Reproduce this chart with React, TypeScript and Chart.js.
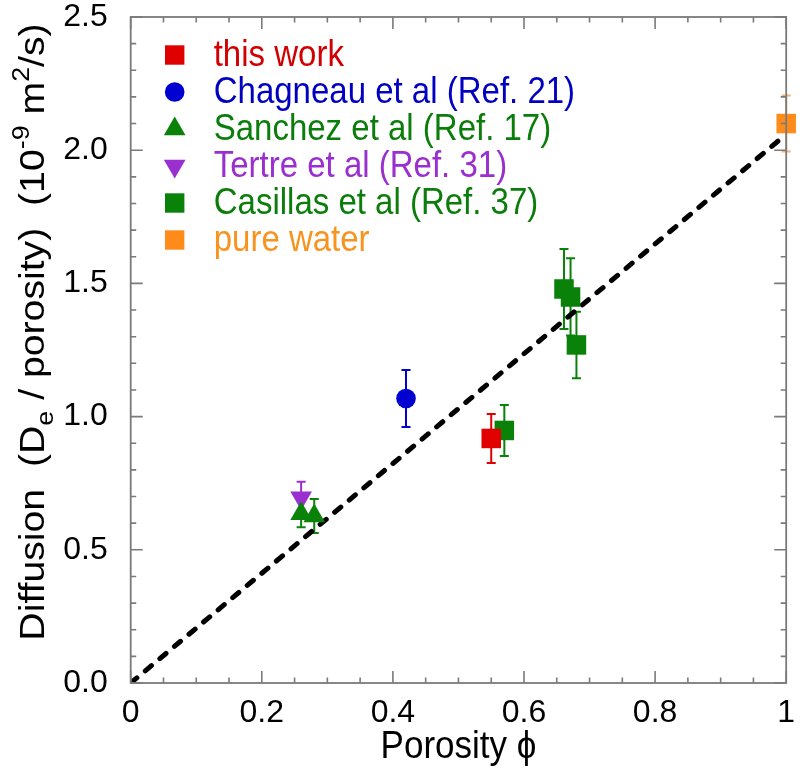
import { useEffect, useRef } from 'react';
import { Chart, registerables } from 'chart.js';

Chart.register(...registerables);

// ---------- data ----------
const thisWorkX = [0.55];
const thisWorkY = [0.918];
const thisWorkErr = [0.092];

const chagneauX = [0.42];
const chagneauY = [1.068];
const chagneauErr = [0.107];

const sanchezX = [0.26, 0.28];
const sanchezY = [0.635, 0.627];
const sanchezErr = [0.05, 0.064];

const tertreX = [0.26];
const tertreY = [0.695];
const tertreErr = [0.06];

const casillasX = [0.57, 0.661, 0.671, 0.68];
const casillasY = [0.948, 1.479, 1.449, 1.269];
const casillasErr = [0.096, 0.15, 0.145, 0.125];

const waterX = [1.0];
const waterY = [2.1];
const waterErr = [0.105];

const fitX = [0, 1];
const fitY = [0, 2.06];

const xTickValues = [0, 0.2, 0.4, 0.6, 0.8, 1];
const yTickValues = [0, 0.5, 1.0, 1.5, 2.0, 2.5];

const seriesLabels = [
  'this work',
  'Chagneau et al (Ref. 21)',
  'Sanchez et al (Ref. 17)',
  'Tertre et al (Ref. 31)',
  'Casillas et al (Ref. 37)',
  'pure water',
];

const FONT = "'Liberation Sans', Arial, Helvetica, sans-serif";

type Series = {
  label: string;
  xs: number[];
  ys: number[];
  errs: number[];
  color: string;
  textColor: string;
  errColor: string;
  style: string;
  rotation: number;
  radius: number;
};

const series: Series[] = [
  { label: seriesLabels[0], xs: thisWorkX, ys: thisWorkY, errs: thisWorkErr, color: '#E00000', textColor: '#D20000', errColor: '#E00000', style: 'rect', rotation: 0, radius: 13.8 },
  { label: seriesLabels[1], xs: chagneauX, ys: chagneauY, errs: chagneauErr, color: '#0000D0', textColor: '#0000C0', errColor: '#0000D0', style: 'circle', rotation: 0, radius: 9.8 },
  { label: seriesLabels[2], xs: sanchezX, ys: sanchezY, errs: sanchezErr, color: '#0A820A', textColor: '#0A7D0A', errColor: '#0A820A', style: 'triangle', rotation: 0, radius: 12.5 },
  { label: seriesLabels[3], xs: tertreX, ys: tertreY, errs: tertreErr, color: '#9A30D0', textColor: '#9A2ECF', errColor: '#9A30D0', style: 'triangle', rotation: 180, radius: 12.5 },
  { label: seriesLabels[4], xs: casillasX, ys: casillasY, errs: casillasErr, color: '#0A820A', textColor: '#0A7D0A', errColor: '#0A820A', style: 'rect', rotation: 0, radius: 13.8 },
  { label: seriesLabels[5], xs: waterX, ys: waterY, errs: waterErr, color: '#FF8C1A', textColor: '#F7931E', errColor: '#F7B274', style: 'rect', rotation: 0, radius: 13.8 },
];

function drawMarker(ctx: CanvasRenderingContext2D, style: string, rotation: number, x: number, y: number, color: string) {
  ctx.save();
  ctx.fillStyle = color;
  ctx.beginPath();
  if (style === 'rect') {
    const s = 9.7;
    ctx.rect(x - s, y - s, 2 * s, 2 * s);
  } else if (style === 'circle') {
    ctx.arc(x, y, 9.8, 0, Math.PI * 2);
  } else {
    const r = 12.5;
    let rad = (rotation * Math.PI) / 180;
    for (let i = 0; i < 3; i++) {
      const px = x + Math.sin(rad) * r;
      const py = y - Math.cos(rad) * r;
      if (i === 0) ctx.moveTo(px, py);
      else ctx.lineTo(px, py);
      rad += (2 * Math.PI) / 3;
    }
    ctx.closePath();
  }
  ctx.fill();
  ctx.restore();
}

const errorBarPlugin = {
  id: 'errorBars',
  beforeDatasetsDraw(chart: any) {
    const ctx = chart.ctx as CanvasRenderingContext2D;
    const xs = chart.scales.x;
    const ys = chart.scales.y;
    ctx.save();
    series.forEach((s) => {
      ctx.strokeStyle = s.errColor;
      ctx.lineWidth = 2;
      s.xs.forEach((xv, i) => {
        const px = xs.getPixelForValue(xv);
        const top = ys.getPixelForValue(s.ys[i] + s.errs[i]);
        const bot = ys.getPixelForValue(s.ys[i] - s.errs[i]);
        ctx.beginPath();
        ctx.moveTo(px, top);
        ctx.lineTo(px, bot);
        ctx.moveTo(px - 4.5, top);
        ctx.lineTo(px + 4.5, top);
        ctx.moveTo(px - 4.5, bot);
        ctx.lineTo(px + 4.5, bot);
        ctx.stroke();
      });
    });
    ctx.restore();
  },
};

function stretchedText(ctx: CanvasRenderingContext2D, text: string, x: number, y: number, sy: number) {
  ctx.save();
  ctx.translate(x, y);
  ctx.scale(1, sy);
  ctx.fillText(text, 0, 0);
  ctx.restore();
}

const framePlugin = {
  id: 'frame',
  afterDatasetsDraw(chart: any) {
    const ctx = chart.ctx as CanvasRenderingContext2D;
    const { left, right, top, bottom } = chart.chartArea;
    const xs = chart.scales.x;
    const ys = chart.scales.y;
    ctx.save();
    ctx.strokeStyle = '#7a7a7a';
    ctx.lineWidth = 1.6;
    ctx.beginPath();
    for (let k = 0; k <= 20; k++) {
      const v = k * 0.05;
      const px = xs.getPixelForValue(v);
      const major = xTickValues.some((t) => Math.abs(t - v) < 1e-6);
      const len = major ? 12 : 5.5;
      ctx.moveTo(px, bottom);
      ctx.lineTo(px, bottom - len);
      ctx.moveTo(px, top);
      ctx.lineTo(px, top + len);
    }
    for (let k = 0; k <= 25; k++) {
      const v = k * 0.1;
      const py = ys.getPixelForValue(v);
      const major = yTickValues.some((t) => Math.abs(t - v) < 1e-6);
      const len = major ? 12 : 5.5;
      ctx.moveTo(left, py);
      ctx.lineTo(left + len, py);
      ctx.moveTo(right, py);
      ctx.lineTo(right - len, py);
    }
    ctx.stroke();
    ctx.lineWidth = 1.8;
    ctx.strokeRect(left, top, right - left, bottom - top);
    ctx.restore();

    // legend
    ctx.save();
    ctx.font = `33px ${FONT}`;
    ctx.textBaseline = 'middle';
    ctx.textAlign = 'left';
    series.forEach((s, i) => {
      const cy = top + 38 + i * 37;
      drawMarker(ctx, s.style, s.rotation, left + 44, cy, s.color);
      ctx.fillStyle = s.textColor;
      stretchedText(ctx, s.label, left + 83, cy + 1, 1.1);
    });
    ctx.restore();

    // x title
    ctx.save();
    ctx.fillStyle = '#000';
    ctx.textBaseline = 'middle';
    ctx.font = `35px ${FONT}`;
    ctx.textAlign = 'center';
    stretchedText(ctx, 'Porosity \u03D5', (left + right) / 2, 747, 1.1);
    ctx.restore();

    // y title
    const fs = 35;
    const pieces: { t: string; k: 'n' | 'sub' | 'sup' }[] = [
      { t: 'Diffusion  (D', k: 'n' },
      { t: 'e', k: 'sub' },
      { t: ' / porosity)  (10', k: 'n' },
      { t: '-9', k: 'sup' },
      { t: ' m', k: 'n' },
      { t: '2', k: 'sup' },
      { t: '/s)', k: 'n' },
    ];
    ctx.save();
    ctx.fillStyle = '#000';
    ctx.textAlign = 'left';
    ctx.textBaseline = 'alphabetic';
    const fontFor = (k: string) => (k === 'n' ? `${fs}px ${FONT}` : `${Math.round(fs * 0.68)}px ${FONT}`);
    let total = 0;
    pieces.forEach((p) => {
      ctx.font = fontFor(p.k);
      total += ctx.measureText(p.t).width;
    });
    ctx.translate(31, 332);
    ctx.rotate(-Math.PI / 2);
    const sx = 1.12;
    ctx.scale(sx, 1);
    let cx = -total / 2;
    const base = fs * 0.36;
    pieces.forEach((p) => {
      ctx.font = fontFor(p.k);
      const dy = p.k === 'sub' ? fs * 0.28 : p.k === 'sup' ? -fs * 0.42 : 0;
      ctx.fillText(p.t, cx, base + dy);
      cx += ctx.measureText(p.t).width;
    });
    ctx.restore();
  },
};

export default function App() {
  const ref = useRef<HTMLCanvasElement | null>(null);
  useEffect(() => {
    document.body.style.margin = '0';
    const canvas = ref.current;
    if (!canvas) return;
    const datasets: any[] = series.map((s) => ({
      type: 'scatter',
      label: s.label,
      data: s.xs.map((x, i) => ({ x, y: s.ys[i] })),
      pointStyle: s.style,
      pointRotation: s.rotation,
      pointRadius: s.radius,
      pointBackgroundColor: s.color,
      pointBorderWidth: 0,
      pointBorderColor: s.color,
      backgroundColor: s.color,
      borderColor: s.color,
      showLine: false,
      clip: false,
    }));
    datasets.push({
      type: 'line',
      label: 'fit',
      data: fitX.map((x, i) => ({ x, y: fitY[i] })),
      borderColor: '#000',
      borderWidth: 5,
      borderDash: [8, 11],
      borderCapStyle: 'round',
      pointRadius: 0,
      fill: false,
      order: 10,
    });
    const chart = new Chart(canvas, {
      type: 'scatter',
      data: { datasets },
      options: {
        animation: false,
        responsive: false,
        devicePixelRatio: 1,
        events: [],
        layout: { padding: { top: 17, right: 11, left: 0, bottom: 0 } },
        plugins: { legend: { display: false }, tooltip: { enabled: false }, title: { display: false } },
        scales: {
          x: {
            type: 'linear',
            min: 0,
            max: 1,
            grid: { display: false },
            border: { display: false },
            ticks: {
              padding: 3,
              color: '#000',
              font: { family: FONT, size: 32 },
              callback: (v: any) => String(Number(v)),
            },
            afterBuildTicks: (scale: any) => {
              scale.ticks = xTickValues.map((v) => ({ value: v }));
            },
            afterFit: (scale: any) => {
              scale.height = 94;
              scale.paddingLeft = 0;
              scale.paddingRight = 0;
            },
          },
          y: {
            type: 'linear',
            min: 0,
            max: 2.5,
            grid: { display: false },
            border: { display: false },
            ticks: {
              padding: 15,
              color: '#000',
              font: { family: FONT, size: 32 },
              callback: (v: any) => Number(v).toFixed(1),
            },
            afterBuildTicks: (scale: any) => {
              scale.ticks = yTickValues.map((v) => ({ value: v }));
            },
            afterFit: (scale: any) => {
              scale.width = 130.7;
              scale.paddingTop = 0;
              scale.paddingBottom = 0;
            },
          },
        },
      },
      plugins: [errorBarPlugin, framePlugin],
    });
    return () => chart.destroy();
  }, []);
  return <canvas ref={ref} width={800} height={777} style={{ display: 'block' }} />;
}
